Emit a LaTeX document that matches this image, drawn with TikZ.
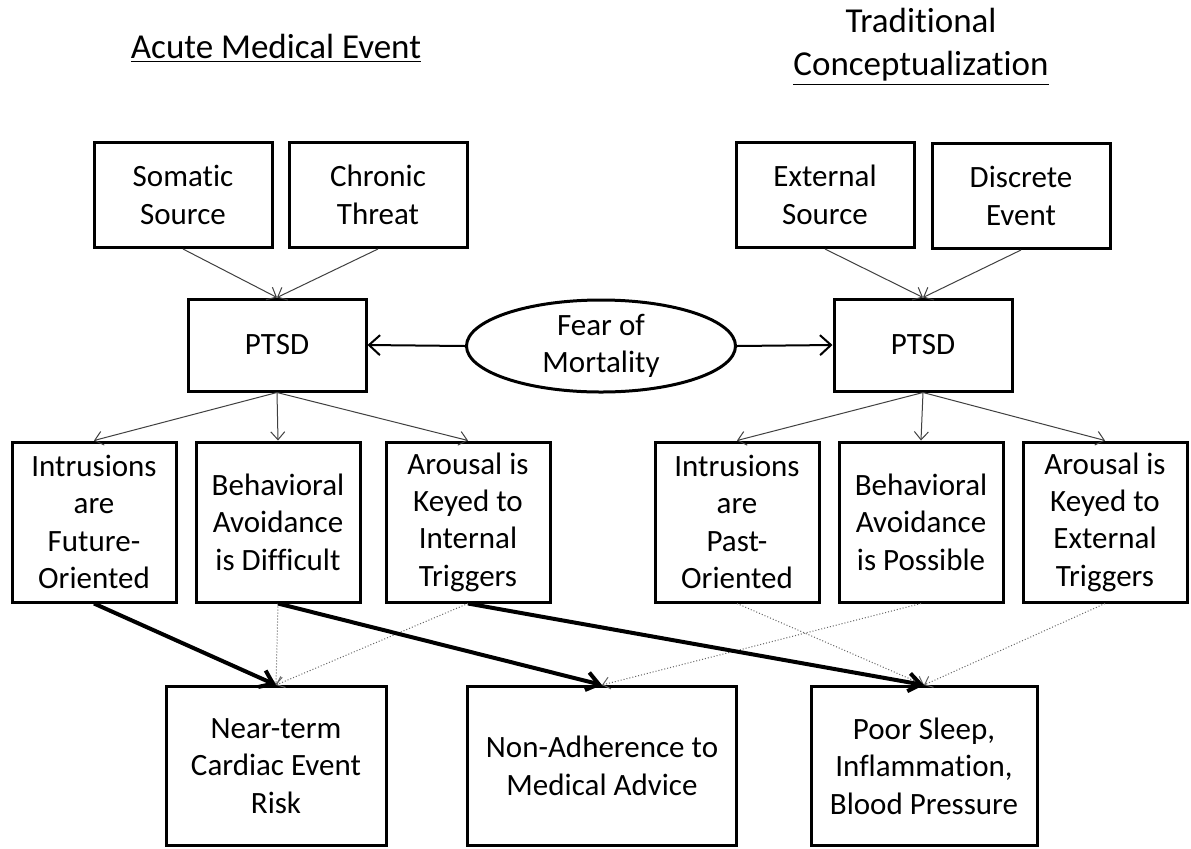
\documentclass[tikz,border=0pt]{standalone}
\usepackage{fontspec}
\setmainfont{Carlito}[Ligatures=CommonOff]
\usetikzlibrary{arrows.meta,shapes.geometric}

\begin{document}
\begin{tikzpicture}[x=0.5pt,y=-0.5pt,
  every node/.style={font=\fontsize{15.5}{18.7}\selectfont, align=center, inner sep=0pt},
  titletext/.style={font=\fontsize{17.5}{21.5}\selectfont},
  box/.style={draw, line width=1.5pt},
  causebox/.style={box, minimum width=89pt, minimum height=52.5pt},
  ptsdbox/.style={box, minimum width=89pt, minimum height=46pt},
  symptombox/.style={box, minimum width=82pt, minimum height=80pt},
  outcomebox/.style={box, minimum height=79.5pt},
  feedarrow/.style={draw=black!75, line width=0.5pt, -{Straight Barb[length=4pt,width=7pt]}},
  fearlink/.style={line width=1pt, -{Straight Barb[length=5.5pt,width=10pt]}},
  strongpath/.style={line width=2pt, -{Straight Barb[length=6pt,width=9pt]}},
  weakpath/.style={draw=black!60, line width=0.5pt, densely dotted, -{Straight Barb[length=3.5pt,width=6pt]}}]
\path[fill=white] (0,0) rectangle (1191,848);

% titles
\node[titletext] (titleL) at (276,48) {\underline{Acute Medical Event}};
\node[titletext] (titleR) at (921,47) {Traditional\\\underline{Conceptualization}};

% sources
\node[causebox] (somatic)  at (183,195) {Somatic\\Source};
\node[causebox] (chronic)  at (378,195) {Chronic\\Threat};
\node[causebox] (external) at (825,195) {External\\Source};
\node[causebox] (discrete) at (1021,196) {Discrete\\Event};

% PTSD and fear
\node[ptsdbox] (ptsdL) at (277,345) {PTSD};
\node[ptsdbox] (ptsdR) at (923,345) {PTSD};
\node[ellipse, draw, line width=1.5pt, minimum width=134.5pt, minimum height=46pt] (fear) at (601,346) {Fear of\\Mortality};

% symptoms
\node[symptombox] (intrFut)   at (94,522)  {Intrusions\\are\\Future-\\Oriented};
\node[symptombox] (avoidDiff) at (278,522) {Behavioral\\Avoidance\\is Difficult};
\node[symptombox] (arousInt)  at (468,522) {Arousal is\\Keyed to\\Internal\\Triggers};
\node[symptombox] (intrPast)  at (737,522) {Intrusions\\are\\Past-\\Oriented};
\node[symptombox] (avoidPoss) at (921,522) {Behavioral\\Avoidance\\is Possible};
\node[symptombox] (arousExt)  at (1105,522) {Arousal is\\Keyed to\\External\\Triggers};

% outcomes
\node[outcomebox, minimum width=110pt]   (cardiac)   at (276,766) {Near-term\\Cardiac Event\\Risk};
\node[outcomebox, minimum width=134.5pt] (adherence) at (602,766) {Non-Adherence to\\Medical Advice};
\node[outcomebox, minimum width=113pt]   (sleep)     at (924,766) {Poor Sleep,\\Inflammation,\\Blood Pressure};

% connectors
\draw[feedarrow] (somatic.south) -- (ptsdL.north);
\draw[feedarrow] (chronic.south) -- (ptsdL.north);
\draw[feedarrow] (external.south) -- (ptsdR.north);
\draw[feedarrow] (discrete.south) -- (ptsdR.north);
\draw[fearlink] (fear.west) -- (ptsdL.east);
\draw[fearlink] (fear.east) -- (ptsdR.west);
\foreach \s in {intrFut,avoidDiff,arousInt}
  \draw[feedarrow] (ptsdL.south) -- (\s.north);
\foreach \s in {intrPast,avoidPoss,arousExt}
  \draw[feedarrow] (ptsdR.south) -- (\s.north);

\draw[weakpath] (avoidDiff.south) -- (cardiac.north);
\draw[weakpath] (arousInt.south) -- (cardiac.north);
\draw[weakpath] (avoidPoss.south) -- (adherence.north);
\draw[weakpath] (intrPast.south) -- (sleep.north);
\draw[weakpath] (arousExt.south) -- (sleep.north);
\draw[strongpath] (intrFut.south) -- (cardiac.north);
\draw[strongpath] (avoidDiff.south) -- (adherence.north);
\draw[strongpath] (arousInt.south) -- (sleep.north);
\end{tikzpicture}
\end{document}
